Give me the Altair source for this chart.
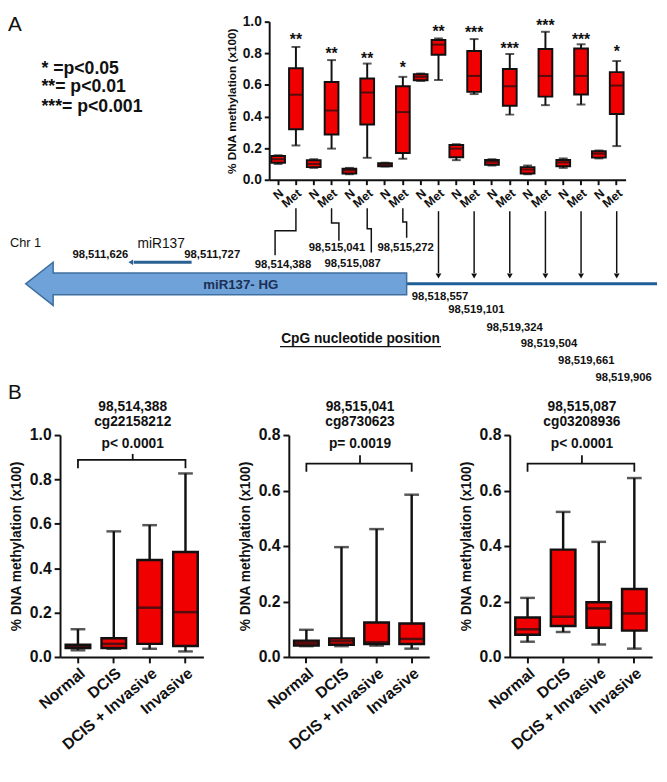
import altair as alt
import pandas as pd

FONT = "Liberation Sans"
RED = "#f00000"
INK = "#111111"

# ---------------- Panel A data (N / Met pairs at 10 CpG sites) ----------------
a_stars = ["**", "**", "**", "*", "**", "***", "***", "***", "***", "*"]
a_star_level = [0.91, 0.82, 0.79, 0.73, 0.96, 0.95, 0.85, 1.00, 0.91, 0.83]
a_min = [0.100, 0.217, 0.075, 0.197, 0.035, 0.139, 0.084, 0.133, 0.625, 0.631,
         0.124, 0.542, 0.090, 0.412, 0.035, 0.472, 0.075, 0.476, 0.135, 0.213]
a_q1 = [0.108, 0.319, 0.080, 0.287, 0.040, 0.349, 0.086, 0.169, 0.630, 0.791,
        0.143, 0.556, 0.095, 0.468, 0.040, 0.526, 0.085, 0.540, 0.140, 0.416]
a_med = [0.130, 0.538, 0.100, 0.438, 0.060, 0.552, 0.095, 0.428, 0.651, 0.855,
         0.197, 0.657, 0.114, 0.592, 0.065, 0.657, 0.110, 0.657, 0.165, 0.596]
a_q3 = [0.150, 0.705, 0.123, 0.618, 0.070, 0.641, 0.104, 0.592, 0.668, 0.884,
        0.220, 0.815, 0.125, 0.701, 0.080, 0.827, 0.125, 0.830, 0.180, 0.681]
a_max = [0.155, 0.840, 0.130, 0.757, 0.075, 0.735, 0.108, 0.651, 0.672, 0.894,
         0.225, 0.890, 0.130, 0.795, 0.090, 0.936, 0.135, 0.857, 0.185, 0.751]
a_legend = ["* =p<0.05", "**= p<0.01", "***= p<0.001"]

# ---------------- Panel B data ----------------
b_cats = ["Normal", "DCIS", "DCIS + Invasive", "Invasive"]
b1_min = [0.030, 0.037, 0.037, 0.025]
b1_q1 = [0.040, 0.040, 0.059, 0.049]
b1_med = [0.047, 0.059, 0.222, 0.202]
b1_q3 = [0.055, 0.084, 0.437, 0.473]
b1_max = [0.125, 0.566, 0.594, 0.827]
b2_min = [0.039, 0.039, 0.041, 0.030]
b2_q1 = [0.041, 0.044, 0.047, 0.047]
b2_med = [0.051, 0.057, 0.053, 0.065]
b2_q3 = [0.059, 0.067, 0.124, 0.121]
b2_max = [0.098, 0.396, 0.461, 0.585]
b3_min = [0.055, 0.090, 0.045, 0.030]
b3_q1 = [0.080, 0.112, 0.105, 0.095]
b3_med = [0.100, 0.145, 0.175, 0.157]
b3_q3 = [0.142, 0.387, 0.197, 0.245]
b3_max = [0.213, 0.523, 0.415, 0.645]
b_sites = ["98,514,388", "98,515,041", "98,515,087"]
b_probes = ["cg22158212", "cg8730623", "cg03208936"]
b_pvals = ["p< 0.0001", "p= 0.0019", "p< 0.0001"]
b_ymax = [1.0, 0.8, 0.8]
b_ticks = [[0, 0.2, 0.4, 0.6, 0.8, 1.0], [0, 0.2, 0.4, 0.6, 0.8], [0, 0.2, 0.4, 0.6, 0.8]]
b_bracket_end = [0.850, 0.668, 0.668]
b_bracket_bar = [0.888, 0.697, 0.697]
b_bracket_tip = [0.915, 0.727, 0.727]

# ---------------- Diagram text ----------------
d_top_labels = ["98,511,626", "98,511,727", "98,514,388", "98,515,041", "98,515,087", "98,515,272"]
d_low_labels = ["98,518,557", "98,519,101", "98,519,324", "98,519,504", "98,519,661", "98,519,906"]

# ---------------- layout: one canvas, page px = canvas px + (8, 15) ----------------
OX, OY = 8, 15
CW, CH = 659, 647
A_L, A_R, A_T, A_B = 264, 627, 0, 161          # panel A plot box (canvas px)
B_T, B_B = 421, 647                            # panel B plot rows (canvas px)
B_LR = [(51, 197), (284, 427), (509, 654)]     # panel B plot columns (canvas px)

# ====================== Panel A boxplot ======================
a_cats = [f"{g}_{i + 1}" for i in range(10) for g in ("N", "Met")]
dfA = pd.DataFrame({"cat": a_cats, "mn": a_min, "q1": a_q1, "md": a_med, "q3": a_q3, "mx": a_max})
a_xs = alt.Scale(domain=a_cats, range=[A_L, A_R], paddingInner=0, paddingOuter=0)
a_ys = alt.Scale(domain=[0, 1], range=[A_B, A_T], nice=False, zero=False)
a_xaxis = alt.Axis(orient="bottom", offset=-(CH - A_B), labelExpr="split(datum.value, '_')[0]",
                   labelAngle=-40, labelFontSize=12.5, labelFontWeight="bold", tickSize=5, tickWidth=2,
                   domainWidth=2, labelPadding=2, labelOverlap=False, title=None)
a_yaxis = alt.Axis(orient="left", offset=-A_L, values=[0, 0.2, 0.4, 0.6, 0.8, 1.0], format=".1f",
                   labelFontSize=14, labelFontWeight="bold", tickSize=5, tickWidth=2, domainWidth=2,
                   labelPadding=3, title="% DNA methylation (x100)", titleFontSize=12,
                   titleFontWeight="bold", titlePadding=4, grid=False, labelOverlap=False)


def ax_a():
    return alt.X("cat:N", scale=a_xs, axis=a_xaxis, sort=a_cats)


def ay_a(f):
    return alt.Y(f"{f}:Q", scale=a_ys, axis=a_yaxis)


baseA = alt.Chart(dfA).encode(x=ax_a())
a_whisk = baseA.mark_rule(color=INK, strokeWidth=2).encode(y=ay_a("mn"), y2="mx:Q")
a_caplo = baseA.mark_tick(color=INK, size=9, thickness=2).encode(y=ay_a("mn"))
a_caphi = baseA.mark_tick(color=INK, size=9, thickness=2).encode(y=ay_a("mx"))
a_box = baseA.mark_bar(width=14, fill=RED, stroke=INK, strokeWidth=2).encode(y=ay_a("q1"), y2="q3:Q")
a_medl = baseA.mark_tick(color=INK, size=14, thickness=2).encode(y=ay_a("md"))
dfStars = pd.DataFrame({"cat": [c for c in a_cats if c.startswith("Met")], "lv": a_star_level, "s": a_stars})
a_starl = alt.Chart(dfStars).mark_text(fontSize=16, fontWeight="bold", color=INK, baseline="middle", dy=4).encode(
    x=ax_a(), y=ay_a("lv"), text="s:N")
boxA = alt.layer(a_whisk, a_caplo, a_caphi, a_box, a_medl, a_starl)

# ====================== Diagram + free texts (page coordinates) ======================
dxs = alt.Scale(domain=[OX, OX + CW], range=[0, CW], nice=False, zero=False)
dys = alt.Scale(domain=[OY, OY + CH], range=[0, CH], nice=False, zero=False)


def dx(f):
    return alt.X(f"{f}:Q", scale=dxs, axis=None)


def dy(f):
    return alt.Y(f"{f}:Q", scale=dys, axis=None)


def dtext(df, **kw):
    return alt.Chart(df).mark_text(color=kw.pop("color", INK), **kw).encode(x=dx("x"), y=dy("y"), text="t:N")


step = (A_R - A_L) / 20.0
met_x = [OX + A_L + (2 * i + 1.5) * step for i in range(10)]

conn_elbow_y = [228, 220, 226, 219]
conn_end_x = [278, 343, 376, 412]
conn_end_y = [253, 238, 250, 235]
rows = []
for i in range(4):
    pts = [(met_x[i], 205), (met_x[i], conn_elbow_y[i]), (conn_end_x[i], conn_elbow_y[i]),
           (conn_end_x[i], conn_end_y[i])]
    for o, (px, py) in enumerate(pts):
        rows.append({"id": i, "o": o, "x": px, "y": py})
dfConn = pd.DataFrame(rows)
d_conn = alt.Chart(dfConn).mark_line(color=INK, strokeWidth=1.5).encode(
    x=dx("x"), y=dy("y"), detail="id:N", order="o:Q")

dfArr = pd.DataFrame({"x": met_x[4:], "y1": [208] * 6, "y2": [271] * 6, "yh": [274] * 6})
d_arr = alt.Chart(dfArr).mark_rule(color=INK, strokeWidth=1.5).encode(x=dx("x"), y=dy("y1"), y2="y2:Q")
d_head = alt.Chart(dfArr).mark_point(shape="triangle-down", filled=True, color=INK, size=35, opacity=1).encode(
    x=dx("x"), y=dy("yh"))

dfChrom = pd.DataFrame({"x": [412], "x2": [OX + CW], "y": [282]})
d_chrom = alt.Chart(dfChrom).mark_rule(color="#1f5e96", strokeWidth=3).encode(x=dx("x"), x2="x2:Q", y=dy("y"))

# big left-pointing gene arrow (miR137 host gene), drawn as one symbol spanning x 24..412
BIG_X0, BIG_X1, BIG_Y = 24, 412, 282
half = (BIG_X1 - BIG_X0) / 2.0
hb = (52 - BIG_X0) / half - 1.0
hh, bh = 22 / half, 11 / half
arrow_path = (f"M -1 0 L {hb:.4f} {-hh:.4f} L {hb:.4f} {-bh:.4f} L 1 {-bh:.4f} L 1 {bh:.4f} "
              f"L {hb:.4f} {bh:.4f} L {hb:.4f} {hh:.4f} Z")
dfBig = pd.DataFrame({"x": [(BIG_X0 + BIG_X1) / 2.0], "y": [BIG_Y]})
d_big = alt.Chart(dfBig).mark_point(shape=arrow_path, size=(2 * half) ** 2, filled=True, color="#6fa2d8",
                                    fill="#6fa2d8", stroke="#3e6f9e", strokeWidth=1.5, opacity=1,
                                    fillOpacity=1).encode(x=dx("x"), y=dy("y"))

dfMir = pd.DataFrame({"x": [134], "x2": [193], "y": [260], "xh": [131]})
d_mir = alt.Chart(dfMir).mark_rule(color="#2b6092", strokeWidth=3).encode(x=dx("x"), x2="x2:Q", y=dy("y"))
d_mirh = alt.Chart(dfMir).mark_point(shape="triangle-left", filled=True, color="#2b6092", size=30, opacity=1).encode(
    x=dx("xh"), y=dy("y"))

dfPos = pd.DataFrame({
    "t": d_top_labels + d_low_labels,
    "x": [100, 214, 286, 341, 357, 411, 446, 483, 522, 557, 595, 633],
    "y": [253, 253, 263, 246, 262, 246, 295, 309, 327, 343, 361, 378],
})
d_pos = dtext(dfPos, fontSize=11.5, fontWeight="bold", align="center", baseline="middle")
d_reg = dtext(pd.DataFrame({"t": ["miR137"], "x": [162], "y": [241]}),
              fontSize=14, align="center", baseline="middle")
d_chr = dtext(pd.DataFrame({"t": ["Chr 1"], "x": [8], "y": [240]}),
              fontSize=13, align="left", baseline="middle")
d_hg = dtext(pd.DataFrame({"t": ["miR137- HG"], "x": [243], "y": [283]}),
             fontSize=13.5, fontWeight="bold", color="#1c2f56", align="center", baseline="middle")
d_cpg = dtext(pd.DataFrame({"t": ["CpG nucleotide position"], "x": [365], "y": [338]}),
              fontSize=14, fontWeight="bold", align="center", baseline="middle")
dfUnd = pd.DataFrame({"x": [283], "x2": [447], "y": [346]})
d_und = alt.Chart(dfUnd).mark_rule(color=INK, strokeWidth=1.2).encode(x=dx("x"), x2="x2:Q", y=dy("y"))
d_panels = dtext(pd.DataFrame({"t": ["A", "B"], "x": [6, 6], "y": [8, 382]}),
                 fontSize=21, align="left", baseline="top")
d_leg = dtext(pd.DataFrame({"t": a_legend, "x": [40, 40, 40], "y": [63, 82, 102]}),
              fontSize=18, fontWeight="bold", align="left", baseline="middle")
b_title_x = [OX + (l + r) / 2 + 1 for l, r in B_LR]
d_btitle = dtext(pd.DataFrame({"t": b_sites + b_probes + b_pvals, "x": b_title_x * 3,
                               "y": [407] * 3 + [423] * 3 + [445] * 3}),
                 fontSize=14, fontWeight="bold", align="center", baseline="middle")

diagram = alt.layer(d_chrom, d_big, d_mir, d_mirh, d_conn, d_arr, d_head, d_pos, d_reg, d_chr, d_hg,
                    d_cpg, d_und, d_panels, d_leg, d_btitle)

# ====================== Panel B boxplots ======================
b_stats = [
    (b1_min, b1_q1, b1_med, b1_q3, b1_max),
    (b2_min, b2_q1, b2_med, b2_q3, b2_max),
    (b3_min, b3_q1, b3_med, b3_q3, b3_max),
]


def make_b(k):
    mn, q1, md, q3, mx = b_stats[k]
    L, R = B_LR[k]
    df = pd.DataFrame({"cat": b_cats, "mn": mn, "q1": q1, "md": md, "q3": q3, "mx": mx})
    xs = alt.Scale(domain=b_cats, range=[L, R], paddingInner=0, paddingOuter=0)
    ys = alt.Scale(domain=[0, b_ymax[k]], range=[B_B, B_T], nice=False, zero=False)
    xaxis = alt.Axis(orient="bottom", offset=0, labelAngle=-40, labelFontSize=16, labelFontWeight="bold",
                     tickSize=6, tickWidth=2, domainWidth=2, labelPadding=2, labelOverlap=False, title=None)
    yaxis = alt.Axis(orient="left", offset=-L, values=b_ticks[k], format=".1f", labelFontSize=16,
                     labelFontWeight="bold", tickSize=6, tickWidth=2, domainWidth=2, labelPadding=3,
                     title="% DNA methylation (x100)", titleFontSize=14, titleFontWeight="bold",
                     titlePadding=6, grid=False, labelOverlap=False)

    def X():
        return alt.X("cat:N", scale=xs, axis=xaxis, sort=b_cats)

    def Y(f):
        return alt.Y(f"{f}:Q", scale=ys, axis=yaxis)

    base = alt.Chart(df).encode(x=X())
    whisk = base.mark_rule(color=INK, strokeWidth=2.5).encode(y=Y("mn"), y2="mx:Q")
    caplo = base.mark_tick(color=INK, size=15, thickness=2.5).encode(y=Y("mn"))
    caphi = base.mark_tick(color=INK, size=15, thickness=2.5).encode(y=Y("mx"))
    box = base.mark_bar(width=25, fill=RED, stroke=INK, strokeWidth=2.5).encode(y=Y("q1"), y2="q3:Q")
    medl = base.mark_tick(color=INK, size=25, thickness=2.5).encode(y=Y("md"))

    br = pd.DataFrame({
        "cat": [b_cats[0], b_cats[0], b_cats[-1], b_cats[-1]],
        "v": [b_bracket_end[k], b_bracket_bar[k], b_bracket_bar[k], b_bracket_end[k]],
        "o": [0, 1, 2, 3],
    })
    brl = alt.Chart(br).mark_line(color=INK, strokeWidth=1.8).encode(x=X(), y=Y("v"), order="o:Q")
    tip = pd.DataFrame({"a": [b_bracket_bar[k]], "b": [b_bracket_tip[k]]})
    tipl = alt.Chart(tip).mark_rule(color=INK, strokeWidth=1.8).encode(
        x=alt.value((L + R) / 2 + 1), y=Y("a"), y2="b:Q")
    return alt.layer(whisk, caplo, caphi, box, medl, brl, tipl)


chart = alt.layer(boxA, diagram, make_b(0), make_b(1), make_b(2)).resolve_scale(
    x="independent", y="independent"
).properties(width=CW, height=CH, padding=0).configure(font=FONT).configure_view(stroke=None).configure_axis(
    domainColor=INK, tickColor=INK, labelColor=INK, titleColor=INK, labelFont=FONT, titleFont=FONT
).configure_text(font=FONT)

chart.save("out.html", embed_options={"renderer": "svg", "actions": False})
